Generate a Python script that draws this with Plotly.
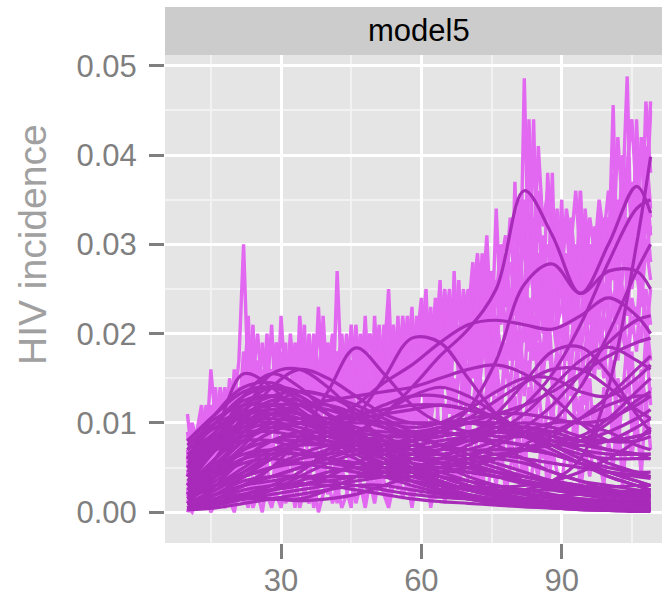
import plotly.graph_objects as go

# ---- data (incidence values read in units of 0.001) ----
SCALE = 0.001
X_NOISY = list(range(10, 110))  # time steps 10..109
N1 = [11, 6, 9, 12, 7, 16, 10, 13, 8, 15,
      12, 17, 30, 14, 21, 11, 19, 13, 21, 10,
      22, 14, 18, 9, 22, 15, 20, 12, 23, 13,
      17, 11, 27, 14, 19, 10, 21, 15, 18, 9,
      22, 13, 17, 25, 12, 20, 14, 22, 11, 19,
      24, 13, 22, 18, 26, 14, 23, 17, 26, 15,
      22, 28, 16, 24, 31, 19, 34, 22, 29, 18,
      37, 21, 48.6, 26, 44, 20, 31, 24, 38, 19,
      30, 22, 27, 18, 36, 21, 29, 17, 34, 23,
      28, 45.6, 24, 35, 48.8, 27, 44, 30, 46, 38]
N2 = [4, 8, 3, 10, 5, 9, 14, 6, 12, 7,
      16, 9, 13, 22, 8, 17, 12, 20, 9, 16,
      11, 19, 7, 16, 12, 21, 8, 17, 10, 22,
      13, 7, 18, 11, 16, 8, 19, 12, 22, 10,
      16, 21, 9, 18, 13, 22, 10, 17, 23, 12,
      18, 25, 12, 20, 15, 24, 11, 27, 16, 21,
      13, 25, 19, 29, 14, 26, 20, 24, 23, 32,
      25, 34, 19, 44, 27, 36, 22, 38, 28, 24,
      35, 20, 31, 25, 36, 22, 30, 27, 24, 33,
      21, 38, 29, 40, 23, 37, 31, 42, 35, 46]
N3 = [7, 3, 9, 5, 11, 6, 8, 12, 5, 10,
      7, 13, 9, 16, 11, 14, 8, 15, 12, 17,
      9, 14, 17, 10, 15, 8, 18, 13, 16, 11,
      15, 20, 12, 14, 9, 17, 13, 20, 11, 15,
      12, 18, 14, 10, 19, 12, 16, 20, 13, 17,
      14, 19, 23, 15, 21, 17, 12, 20, 24, 16,
      21, 15, 27, 20, 23, 16, 25, 21, 27, 24,
      19, 29, 23, 26, 33, 22, 28, 20, 31, 27,
      24, 29, 22, 27, 19, 32, 26, 23, 30, 27,
      32, 26, 35, 29, 33, 27, 39, 32, 37, 33]
N4 = [2, 6, 4, 8, 3, 7, 5, 9, 6, 4,
      10, 6, 12, 8, 5, 11, 7, 13, 6, 10,
      13, 7, 11, 5, 12, 9, 14, 7, 12, 8,
      10, 6, 13, 9, 15, 7, 11, 8, 14, 12,
      9, 14, 7, 12, 16, 10, 13, 8, 15, 11,
      17, 10, 14, 19, 12, 16, 20, 11, 15, 19,
      12, 18, 14, 21, 17, 13, 22, 18, 15, 23,
      17, 21, 14, 24, 18, 26, 21, 17, 25, 22,
      28, 21, 25, 19, 27, 23, 18, 26, 22, 29,
      24, 29, 21, 27, 32, 25, 30, 24, 34, 28]
N5 = [1, 3, 0.5, 4, 2, 5, 1.5, 6, 3, 7,
      4, 8, 2.5, 9, 5, 7, 3, 10, 6, 4,
      8, 3, 9, 6, 4, 10, 5, 8, 3, 9,
      6, 11, 4, 8, 10, 5, 9, 12, 6, 8,
      4, 10, 7, 12, 5, 9, 11, 6, 10, 8,
      12, 6, 10, 14, 8, 11, 7, 13, 9, 15,
      8, 12, 16, 10, 14, 9, 17, 12, 19, 11,
      15, 20, 13, 17, 11, 19, 15, 21, 14, 18,
      12, 20, 16, 22, 14, 18, 24, 17, 21, 15,
      23, 18, 26, 20, 17, 24, 21, 28, 19, 25]
N6 = [0, 1.5, 3, 0.5, 2, 4, 1, 3, 0.5, 2.5,
      1, 5, 2, 0.5, 4, 1.5, 6, 2, 0.5, 3,
      5, 1, 3.5, 0.5, 6, 2, 4, 0.5, 3, 7,
      2, 4.5, 1, 5, 2.5, 0.5, 6, 3, 1.5, 5,
      2, 7, 3.5, 1, 6, 2.5, 8, 4, 1.5, 6,
      3, 9, 5, 1.5, 7, 4, 10, 2.5, 8, 5,
      11, 6, 3, 9, 5, 12, 7, 4, 10, 6,
      13, 8, 4, 11, 7, 14, 9, 5, 12, 8,
      15, 9, 6, 13, 10, 16, 8, 12, 5, 14,
      10, 17, 7, 13, 19, 9, 15, 11, 20, 12]
N7 = [0.5, 0, 1.5, 0.5, 2, 0, 1, 2.5, 0.5, 1.5,
      0, 2.5, 1, 3, 0.5, 2, 0, 3.5, 1, 2,
      0.5, 3, 1.5, 4, 0.5, 2.5, 1, 3.5, 0, 2,
      4, 1, 3, 0.5, 2, 4.5, 1, 3, 0.5, 3.5,
      1, 4, 2, 0.5, 3, 5, 1.5, 3.5, 0.5, 4,
      2, 5, 0.5, 3.5, 6, 1, 4, 2, 5.5, 1.5,
      4, 7, 2, 5, 1, 6, 3, 8, 2, 5,
      7, 3, 9, 1.5, 6, 4, 10, 2, 7, 4.5,
      3, 8, 5, 11, 2, 7, 4, 9, 6, 3,
      8, 5, 12, 3, 9, 6, 11, 4, 13, 7]
N8 = [9, 5, 7, 10, 6, 12, 9, 14, 11, 8,
      14, 11, 18, 12, 15, 20, 13, 17, 14, 19,
      16, 12, 20, 14, 17, 11, 19, 15, 21, 14,
      18, 13, 16, 20, 12, 17, 14, 19, 13, 16,
      19, 14, 21, 16, 18, 13, 22, 17, 19, 15,
      20, 17, 22, 14, 19, 23, 18, 21, 15, 22,
      18, 23, 20, 26, 21, 27, 24, 30, 26, 33,
      27, 35, 30, 39, 28, 41, 32, 36, 29, 33,
      26, 34, 30, 36, 28, 25, 33, 29, 35, 31,
      36, 30, 42, 34, 39, 44, 35, 40, 33, 45]
N9 = [5, 9, 6, 11, 8, 4, 10, 7, 13, 9,
      6, 12, 10, 15, 9, 13, 16, 10, 14, 8,
      12, 16, 10, 18, 13, 9, 15, 19, 11, 16,
      9, 15, 18, 12, 20, 14, 9, 16, 21, 13,
      17, 11, 19, 14, 21, 16, 12, 19, 14, 22,
      15, 21, 17, 23, 13, 19, 25, 18, 21, 12,
      24, 19, 22, 17, 26, 21, 18, 27, 20, 25,
      22, 26, 31, 20, 25, 29, 23, 27, 21, 30,
      25, 18, 28, 23, 31, 26, 21, 29, 25, 22,
      27, 33, 25, 31, 27, 34, 26, 36, 29, 32]
N10 = [3, 5, 8, 2, 6, 9, 4, 7, 10, 5,
       8, 4, 11, 7, 13, 6, 10, 5, 12, 9,
       6, 11, 8, 13, 7, 12, 10, 6, 14, 9,
       12, 8, 10, 15, 7, 13, 10, 14, 8, 11,
       14, 8, 12, 9, 15, 7, 14, 11, 8, 13,
       9, 14, 11, 7, 16, 10, 13, 15, 9, 17,
       14, 10, 18, 13, 9, 19, 15, 11, 17, 14,
       20, 12, 17, 15, 22, 13, 18, 24, 16, 12,
       19, 23, 13, 17, 21, 12, 20, 15, 23, 18,
       14, 21, 19, 25, 16, 22, 18, 26, 22, 17]
N11 = [6, 10, 8, 5, 9, 11, 7, 12, 9, 13,
       10, 14, 8, 18, 13, 9, 15, 11, 16, 12,
       18, 10, 15, 12, 19, 14, 11, 17, 13, 20,
       14, 18, 11, 16, 13, 21, 15, 11, 17, 20,
       13, 19, 16, 22, 15, 18, 21, 14, 20, 17,
       22, 18, 16, 24, 20, 25, 19, 23, 18, 25,
       20, 24, 29, 22, 19, 27, 23, 28, 31, 22,
       28, 23, 35, 29, 24, 33, 27, 30, 25, 34,
       28, 32, 26, 30, 24, 34, 28, 31, 27, 32,
       29, 35, 31, 28, 38, 32, 36, 28, 41, 34]
N12 = [2, 0.5, 4, 6, 1, 3, 7, 2, 5, 1,
       6, 3, 7, 4, 10, 3, 8, 5, 2, 7,
       4, 8, 2, 10, 5, 7, 3, 9, 6, 4,
       8, 3, 7, 5, 9, 3, 7, 10, 4, 8,
       6, 3, 9, 5, 8, 4, 10, 6, 12, 3,
       7, 11, 4, 9, 6, 12, 8, 5, 10, 7,
       10, 4, 9, 12, 7, 10, 13, 6, 11, 9,
       5, 12, 9, 14, 8, 11, 6, 13, 10, 16,
       9, 12, 17, 8, 13, 10, 15, 6, 12, 10,
       13, 8, 15, 11, 14, 18, 9, 16, 12, 14]
N13 = [8, 10, 6, 9, 12, 8, 11, 9, 14, 10,
       13, 10, 16, 12, 18, 14, 11, 17, 13, 19,
       14, 17, 12, 19, 15, 18, 13, 20, 16, 12,
       19, 15, 13, 18, 16, 20, 13, 18, 15, 20,
       16, 19, 15, 21, 17, 14, 20, 18, 22, 16,
       19, 22, 18, 20, 24, 17, 22, 19, 23, 20,
       25, 21, 24, 19, 28, 23, 26, 22, 25, 28,
       24, 27, 22, 30, 26, 23, 29, 25, 32, 26,
       29, 24, 33, 27, 25, 30, 24, 32, 27, 30,
       33, 28, 31, 36, 30, 34, 29, 33, 38, 31]
N14 = [6, 4, 9, 7, 10, 5, 12, 8, 11, 6,
       11, 8, 14, 10, 7, 15, 11, 9, 16, 12,
       10, 15, 13, 11, 17, 12, 16, 10, 15, 18,
       11, 16, 14, 10, 17, 12, 18, 15, 11, 17,
       18, 12, 16, 19, 11, 17, 15, 20, 16, 14,
       20, 15, 19, 16, 22, 18, 16, 21, 19, 23,
       17, 21, 19, 24, 20, 22, 18, 25, 21, 19,
       26, 21, 25, 18, 23, 27, 20, 24, 28, 21,
       23, 27, 21, 25, 29, 24, 26, 21, 28, 24,
       26, 23, 28, 25, 22, 29, 27, 23, 30, 26]
N15 = [4, 7, 5, 9, 6, 8, 3, 10, 7, 12,
       9, 12, 6, 10, 14, 8, 12, 15, 9, 13,
       11, 9, 14, 8, 13, 16, 9, 12, 10, 14,
       16, 10, 12, 14, 9, 15, 11, 13, 17, 10,
       13, 16, 11, 14, 10, 15, 18, 12, 17, 10,
       15, 12, 18, 13, 17, 14, 19, 12, 16, 18,
       15, 20, 12, 17, 22, 15, 19, 16, 21, 17,
       19, 16, 22, 20, 17, 21, 16, 19, 22, 18,
       21, 17, 19, 24, 18, 21, 25, 19, 16, 22,
       19, 24, 17, 22, 26, 20, 23, 19, 25, 21]
NOISY = [N1, N2, N3, N4, N5, N6, N7, N8, N9, N10, N11, N12, N13, N14, N15]

X_SMOOTH = [10, 16, 22, 28, 34, 40, 46, 52, 58, 64, 70, 76, 82, 88, 94, 100, 106, 109]
S01 = [5, 9, 12, 13, 12, 10, 8, 6, 4.5, 3.5, 2.5, 2, 1.5, 1.2, 1, 0.8, 0.6, 0.5]
S02 = [3, 7, 10, 11.5, 11, 9.5, 8, 6.5, 5, 4, 3, 2.2, 1.6, 1.2, 1, 0.8, 0.7, 0.6]
S03 = [7, 10, 12.5, 13, 11.5, 9, 7, 5.5, 4.5, 4, 3.5, 3, 2.5, 2, 1.5, 1.2, 1, 1]
S04 = [1, 4, 7, 9, 10, 10, 9.5, 8.5, 7, 5.5, 4, 3, 2.2, 1.6, 1.2, 1, 0.8, 0.7]
S05 = [6, 10, 13, 14, 13, 11, 9, 7, 5, 3.5, 2.5, 1.8, 1.2, 0.8, 0.5, 0.3, 0.2, 0.2]
S06 = [2, 5, 8, 10, 10.5, 9.5, 8, 6, 4.5, 3, 2, 1.2, 0.8, 0.5, 0.3, 0.2, 0.2, 0.2]
S07 = [4, 8, 11, 12, 11, 9, 7, 5, 3.5, 2.5, 1.8, 1.3, 1, 0.8, 0.6, 0.5, 0.4, 0.4]
S08 = [0.5, 3, 6, 8, 8.5, 8, 7, 6, 5, 4, 3, 2.2, 1.5, 1, 0.7, 0.5, 0.4, 0.4]
S09 = [3, 5, 7, 8, 8, 7.5, 7, 6.5, 6, 5.5, 5, 4.5, 4, 3.5, 3, 2.5, 2, 1.8]
S10 = [8, 11, 13.5, 14, 12.5, 10, 8, 6.5, 5.5, 5, 4.5, 4, 3.5, 3, 2.6, 2.3, 2, 1.9]
S11 = [0.5, 1.5, 2, 2.5, 3, 4, 5.5, 7, 8.5, 9.5, 10, 9.5, 8.5, 7, 5.5, 4, 3, 2.5]
S12 = [1, 1.5, 1.8, 1.5, 1.5, 2.5, 4, 5.5, 6.5, 7, 7, 6.5, 6, 5.5, 5, 4.5, 4.2, 4]
S13 = [8, 10.5, 12, 12, 11, 10.5, 10.5, 11, 11.5, 12, 11.5, 10.5, 9, 7.5, 6.5, 6, 6, 6]
S14 = [2, 6, 11, 15.5, 16, 14, 11, 8, 5.5, 4, 3, 2.5, 2, 1.8, 1.5, 1.3, 1.2, 1.2]
S15 = [4, 9, 15.5, 14, 11, 9, 8, 7.5, 7, 6.5, 5.5, 4.5, 3.5, 2.5, 2, 1.5, 1.2, 1]
S16 = [6, 11, 14, 14.5, 13, 11, 9.5, 9, 9, 9, 8.5, 7.5, 6, 4.5, 3.5, 3, 2.5, 2.2]
S17 = [4, 8, 13, 15.5, 14, 11, 8.5, 7, 6.5, 7, 8, 9, 9.5, 9, 8, 7, 6.5, 6]
S18 = [1, 2, 3, 5, 8.5, 13.5, 18.4, 15.5, 12, 10, 9, 8.5, 8.5, 9, 10.5, 12, 13, 13]
S19 = [0.5, 1, 2, 3, 4.5, 7, 10.5, 15, 19.5, 19, 15, 11, 8.5, 7.5, 8, 10, 12.5, 13.5]
S20 = [1.5, 3, 5, 7, 8, 8.5, 9, 11, 14, 17.5, 20.5, 25, 36, 31, 24.5, 30, 36.5, 33.5]
S21 = [1, 2, 3, 4, 5, 6, 7, 7.5, 8, 9, 11.5, 17, 25.5, 27.8, 24.5, 27, 27, 25]
S22 = [2, 4, 5.5, 6, 5.5, 5, 4.5, 4, 3.5, 3, 2.5, 2.2, 2.5, 3.5, 6, 14, 30, 39.8]
S23 = [1, 2, 4, 6, 8, 10, 12, 14.5, 16.5, 19, 21, 21.5, 21, 20.5, 22, 24, 22, 20]
S24 = [3, 6, 9, 11, 12, 12.5, 13, 13.5, 14, 15, 16, 16.5, 15.5, 13, 10, 8, 8, 8.5]
S25 = [2, 3, 4, 5, 6, 6.5, 7, 7.5, 8, 8.5, 9, 10, 12, 15.5, 21, 28, 34, 35]
S26 = [5, 8, 10, 10.5, 10, 9, 8, 7, 6.5, 6.5, 7, 8, 9.5, 12, 15.5, 19, 21.5, 22]
S27 = [0.5, 1, 1.5, 2, 2.5, 3, 3.5, 4, 5, 6, 7.5, 9, 11, 14, 17, 18.5, 17, 16]
S28 = [2, 4, 7, 9, 10, 10.5, 10.5, 10, 9.5, 10, 11.5, 13.5, 15, 15, 13.5, 13, 15, 16.5]
S29 = [1, 2, 3, 4, 5, 6.5, 8.5, 11, 13, 14, 13, 11, 9, 8, 8.5, 10.5, 13.5, 15]
S30 = [3, 5, 6.5, 7, 6.5, 6, 5.5, 5.5, 6, 7, 8.5, 11, 14.5, 18, 18.5, 15.5, 11, 9]
S31 = [1, 2.5, 4, 5, 5.5, 5.5, 5, 4.5, 4.5, 5, 6, 7.5, 9, 10, 10, 9, 7.5, 7]
S32 = [2, 4, 6, 7, 7, 6, 5, 4, 3, 2.2, 1.5, 1, 0.7, 0.5, 0.3, 0.2, 0.1, 0.1]
S33 = [0.5, 1.5, 2.5, 3, 3.2, 3, 2.5, 2, 1.5, 1.2, 1, 0.8, 0.6, 0.5, 0.4, 0.3, 0.3, 0.3]
S34 = [1, 1.2, 1.5, 2.5, 4, 5.5, 6.5, 6.5, 5.5, 4.5, 3.5, 2.5, 2, 1.5, 1.2, 1, 1, 1]
S35 = [0.5, 1, 1.5, 1.5, 1.3, 1.5, 2, 3, 4, 4.5, 4.5, 4, 3.5, 3, 2.5, 2.2, 2, 2]
S36 = [7, 9.5, 11, 11.5, 11, 10, 9, 8.5, 8.5, 9, 10, 11, 12, 13.5, 15.5, 17.5, 19, 19.5]
S37 = [4, 7, 9.5, 11, 11, 10, 8.5, 7.5, 7, 7.5, 8.5, 9.5, 10, 9.5, 8.5, 8, 8.5, 9]
S38 = [2, 3, 4.5, 6, 7.5, 9, 10.5, 12, 13, 13, 12, 10.5, 9, 8, 7.5, 8, 9.5, 10.5]
S39 = [6, 8, 9, 9, 8.5, 8, 7.5, 7.5, 8, 9, 10.5, 12.5, 14.5, 16, 16, 14, 11.5, 10.5]
S40 = [0.3, 0.5, 1, 1.5, 2, 2.5, 3, 3, 2.5, 2, 1.5, 1, 0.8, 0.6, 0.5, 0.5, 0.4, 0.4]
S41 = [1, 2, 3, 3.5, 4, 4, 4, 4, 4, 4.5, 5, 6, 7.5, 10, 14, 20, 27, 30]
S42 = [3, 4.5, 6, 6.5, 6.5, 6, 5.5, 5, 5, 5, 5.5, 6, 7, 8.5, 10.5, 13, 16, 17.5]
S43 = [5, 7, 8, 8, 7, 6, 5, 4, 3.5, 3, 2.8, 2.8, 3, 3.5, 4.5, 6, 8, 9.5]
S44 = [1.5, 5, 9, 12, 13.5, 13, 11.5, 10, 8.5, 7.5, 7, 7, 7, 6.5, 5.5, 4, 3, 2.5]
S45 = [0.5, 2, 3.5, 4, 4, 3.5, 3, 2.5, 2, 1.7, 1.5, 1.5, 1.6, 1.8, 2, 2.2, 2.4, 2.5]
S46 = [3, 6, 10, 14, 16, 15, 13, 11, 10, 10, 10.5, 11, 11, 10.5, 10, 10.5, 12, 13]
S47 = [4, 7.5, 10, 11, 10.5, 9, 7.5, 6.5, 6, 5.5, 5, 4.5, 4, 3.5, 3, 2.5, 2.2, 2]
S48 = [2.5, 6, 9, 10, 9.5, 8.5, 7.5, 7, 7, 7.5, 8, 8, 7.5, 6.5, 5.5, 4.5, 4, 3.8]
S49 = [5.5, 8.5, 11, 12, 12, 11.5, 10.5, 9.5, 8.5, 7.5, 6.5, 5.5, 4.5, 3.5, 2.8, 2.2, 1.8, 1.6]
S50 = [3.5, 7, 10.5, 12.5, 12.5, 11, 9, 7.5, 6.5, 6, 6, 6.5, 7, 7.5, 7.5, 7, 6.5, 6.5]
S51 = [1.5, 3.5, 6, 8, 9, 9, 8.5, 8, 8, 8.5, 9, 9, 8.5, 7.5, 6, 4.5, 3.5, 3]
S52 = [6.5, 9, 11.5, 13, 13.5, 13, 12, 10.5, 9, 7.5, 6, 5, 4, 3.2, 2.5, 2, 1.6, 1.5]
S53 = [2, 4.5, 7.5, 10.5, 12, 12, 11, 9.5, 8, 6.5, 5, 4, 3.2, 2.6, 2.2, 2, 1.8, 1.8]
S54 = [7.5, 10, 11, 11, 10, 9, 8, 7.5, 7.5, 8, 8.5, 9, 9, 8.5, 8, 8, 8.5, 9]
S55 = [1, 2.5, 4.5, 6.5, 7.5, 7.5, 7, 6.5, 6, 6, 6.5, 7, 7, 6.5, 5.5, 4.5, 3.5, 3]
S56 = [4.5, 8, 12, 14, 13.5, 12, 10.5, 9.5, 9, 9.5, 10, 10, 9.5, 8.5, 7, 5.5, 4.5, 4]
S57 = [0.5, 1.5, 3, 5, 6.5, 7.5, 8, 8, 7.5, 6.5, 5.5, 4.5, 3.5, 2.8, 2.2, 1.8, 1.5, 1.4]
S58 = [3, 5.5, 8, 9.5, 10, 10, 10, 10, 10, 10, 10, 9.5, 9, 8, 7, 6.5, 6.5, 6.5]
S59 = [5, 7, 8.5, 9.5, 10, 10.5, 11, 11.5, 12, 12, 11.5, 10.5, 9, 7.5, 6, 5, 4.5, 4.5]
S60 = [2, 3, 4, 5, 6, 7, 8, 8.5, 9, 9, 8.5, 8, 7.5, 7.5, 8, 9, 10.5, 11.5]
S61 = [0.3, 0.8, 1.5, 2.5, 3.5, 4.5, 5, 5, 4.5, 3.5, 2.5, 1.8, 1.2, 0.9, 0.7, 0.6, 0.5, 0.5]
S62 = [1, 1.5, 2, 2.5, 3, 3.5, 4, 4.5, 5, 5.5, 6, 6, 5.5, 4.5, 3.5, 2.5, 2, 1.8]
S63 = [6, 8.5, 10, 10, 9, 7.5, 6, 4.5, 3.5, 2.6, 2, 1.5, 1.2, 1, 0.8, 0.7, 0.6, 0.6]
S64 = [3, 6, 8.5, 9.5, 9, 8, 6.5, 5, 4, 3.2, 2.8, 2.5, 2.5, 2.5, 2.6, 2.8, 3, 3]
SMOOTH = [S01, S02, S03, S04, S05, S06, S07, S08, S09, S10, S11, S12, S13, S14, S15, S16,
          S17, S18, S19, S20, S21, S22, S23, S24, S25, S26, S27, S28, S29, S30, S31, S32,
          S33, S34, S35, S36, S37, S38, S39, S40, S41, S42, S43, S44, S45, S46, S47, S48,
          S49, S50, S51, S52, S53, S54, S55, S56, S57, S58, S59, S60, S61, S62, S63, S64]

Y_TICKS = [0.0, 0.01, 0.02, 0.03, 0.04, 0.05]
Y_TICK_TEXT = ["0.00", "0.01", "0.02", "0.03", "0.04", "0.05"]
X_TICKS = [30, 60, 90]
PANEL_LABEL = "model5"
Y_TITLE = "HIV incidence"

NOISY_COLOR = "#E267F1"
SMOOTH_COLOR = "#A82AB9"
FONT = "Liberation Sans, Arial, Helvetica, sans-serif"

fig = go.Figure()
for s in NOISY:
    fig.add_trace(go.Scatter(x=X_NOISY, y=[v * SCALE for v in s], mode="lines",
                             line=dict(color=NOISY_COLOR, width=3.4),
                             showlegend=False, hoverinfo="skip"))
for s in SMOOTH:
    fig.add_trace(go.Scatter(x=X_SMOOTH, y=[v * SCALE for v in s], mode="lines",
                             line=dict(color=SMOOTH_COLOR, width=3.2, shape="spline", smoothing=1.0),
                             showlegend=False, hoverinfo="skip"))

fig.update_layout(
    width=662, height=599,
    margin=dict(l=165, r=0, t=55, b=56, autoexpand=False),
    paper_bgcolor="white", plot_bgcolor="#E5E5E5",
    font=dict(family=FONT, color="#7F7F7F"),
    showlegend=False,
)
fig.update_xaxes(
    range=[5.2, 111.44], tickvals=X_TICKS, ticktext=[str(v) for v in X_TICKS],
    automargin=False,
    showgrid=True, gridcolor="white", gridwidth=3, zeroline=False,
    ticks="outside", ticklen=15, tickwidth=3, tickcolor="#7F7F7F",
    tickfont=dict(size=31, color="#7F7F7F", family=FONT), ticklabelstandoff=-5,
    minor=dict(tickvals=[15, 45, 75, 105], showgrid=True, gridcolor="#F2F2F2", gridwidth=1.5, ticks=""),
    showline=False,
)
fig.update_yaxes(
    range=[-0.00344, 0.0512], tickvals=Y_TICKS, ticktext=Y_TICK_TEXT,
    automargin=False,
    showgrid=True, gridcolor="white", gridwidth=3, zeroline=False,
    ticks="outside", ticklen=15, tickwidth=3, tickcolor="#7F7F7F",
    tickfont=dict(size=31, color="#7F7F7F", family=FONT), ticklabelstandoff=6,
    minor=dict(tickvals=[0.005, 0.015, 0.025, 0.035, 0.045], showgrid=True,
               gridcolor="#F2F2F2", gridwidth=1.5, ticks=""),
    showline=False,
)
# facet strip
fig.add_shape(type="rect", xref="paper", yref="paper", x0=0, x1=1.05,
              y0=1.0, y1=1 + 48 / 488, fillcolor="#CCCCCC", line=dict(width=0), layer="below")
fig.add_annotation(text=PANEL_LABEL, xref="paper", yref="paper", x=(419 - 165) / 497,
                   y=1 + 24 / 488, showarrow=False, xanchor="center", yanchor="middle",
                   font=dict(size=31, color="black", family=FONT))
fig.add_annotation(text=Y_TITLE, xref="paper", yref="paper", x=(32 - 165) / 497,
                   y=(543 - 245) / 488, showarrow=False, textangle=-90,
                   xanchor="center", yanchor="middle",
                   font=dict(size=39, color="#A0A0A0", family=FONT))

fig.write_html("out.html")
